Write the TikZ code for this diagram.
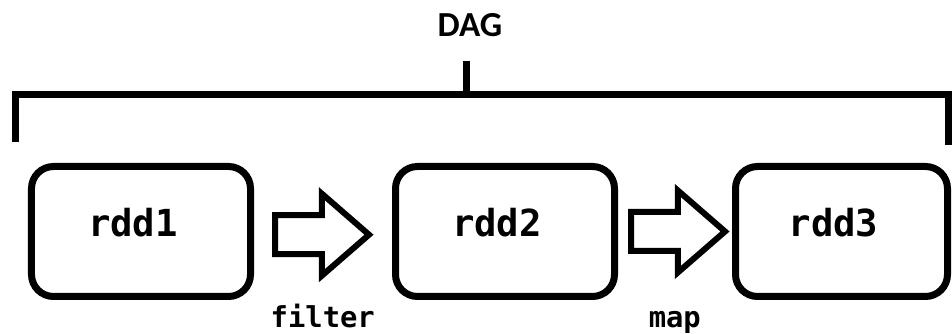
\documentclass[tikz,border=0pt]{standalone}
\usepackage{fontspec}
\setmonofont{DejaVu Sans Mono}
\newfontfamily\dagfont{Carlito}
\usetikzlibrary{positioning, shapes.arrows, calc}

\begin{document}
\begin{tikzpicture}[rdd/.style={draw, line width=0.175cm, rounded corners=0.55cm, minimum width=5.475cm, minimum height=3.25cm, text depth=0.475cm, execute at end node=\hspace{0.4cm}, font=\ttfamily\bfseries\fontsize{26.5}{30}\selectfont}, blockarrow/.style={draw, shape=single arrow, line width=0.15cm, inner sep=0, text height=0.4125cm, text depth=0.4125cm, minimum height=2.35cm, single arrow head extend=0.5375cm, single arrow tip angle=82}, lbl/.style={inner sep=0, font=\ttfamily\bfseries\fontsize{20.5}{24}\selectfont}, bar/.style={line width=0.175cm}]
\useasboundingbox (0,0) rectangle (23.8,8.35);
\node[rdd] (rdd1) at (3.525,2.5625) {rdd1};
\node[rdd, right=3.45cm of rdd1] (rdd2) {rdd2};
\node[rdd, right=2.85cm of rdd2, minimum width=5.3cm] (rdd3) {rdd3};
\node[blockarrow, right=0.45cm of rdd1, yshift=-0.08cm] (f1) {};
\node[blockarrow, right=0.25cm of rdd2] (m1) {};
\node[lbl, anchor=base] (filt) at ($(f1.tail)!0.5!(f1.tip)+(0,-2.32)$) {filter};
\node[lbl, anchor=base] (mp) at ($(m1.tail)!0.5!(m1.tip)+(-0.1,-2.4)$) {map};
% bracket over the whole chain
\node[inner sep=0, font=\dagfont\bfseries\fontsize{25}{29}\selectfont] (dag) at (11.75,7.71) {DAG};
\coordinate (brk) at (11.65,5.9875);
\coordinate (bl) at (0.4,4.8);
\coordinate (br) at (23.71,4.725);
\draw[bar] (bl) |- (brk) -| (br);
\draw[bar] ($(dag.south -| brk)+(0,-0.575)$) -- (brk);
\end{tikzpicture}
\end{document}
